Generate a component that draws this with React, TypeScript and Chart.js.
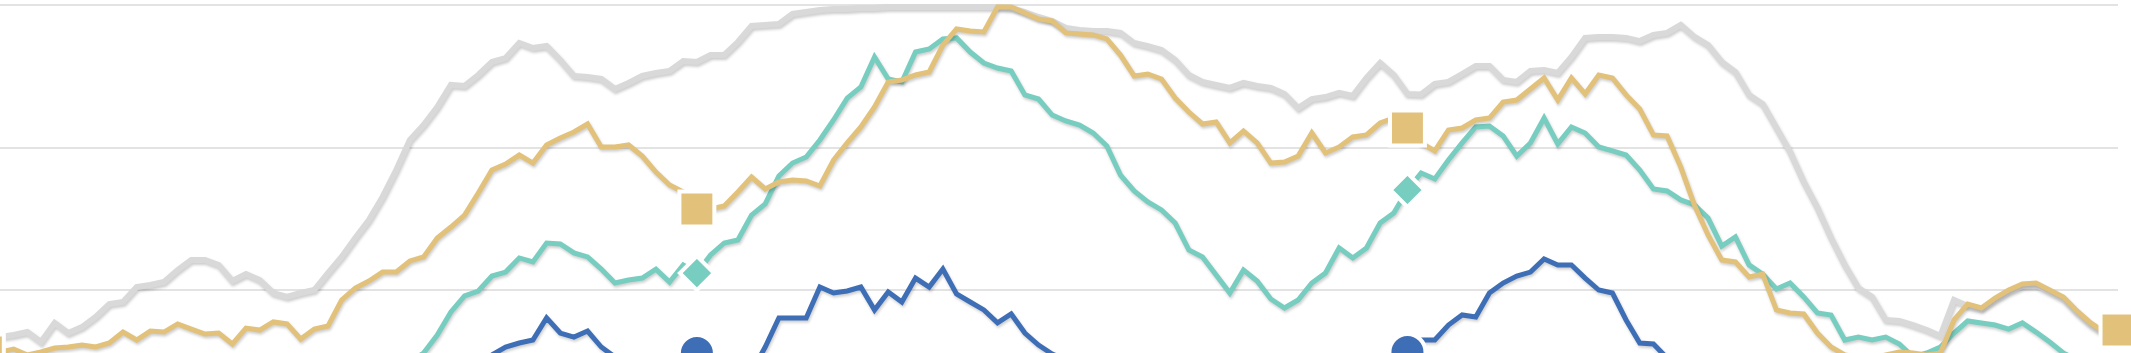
import { useEffect, useRef } from 'react';
import { Chart, registerables } from 'chart.js';

Chart.register(...registerables);

// Week index (x) — the first point sits just left of the visible area
const weeks: number[] = Array.from({ length: 157 }, (_, k) => k - 1);

// Weeks that carry a marker
const markerWeeks = [-1, 51, 103, 155];

// Gridline values
const gridTicks = [10, 20, 30];
const yMin = 5.58;
const yMax = 30;

const grayValues = [
  6.63, 6.70, 6.84, 7.05, 6.35, 7.69, 6.98, 7.40, 8.11, 9.02,
  9.16, 10.21, 10.35, 10.56, 11.40, 12.11, 12.11, 11.76, 10.63, 11.12,
  10.70, 9.79, 9.51, 9.79, 10.00, 11.19, 12.32, 13.65, 14.91, 16.53,
  18.42, 20.53, 21.58, 22.84, 24.39, 24.32, 25.09, 26.00, 26.28, 27.33,
  26.98, 27.12, 26.14, 25.02, 24.95, 24.81, 24.11, 24.53, 25.02, 25.23,
  25.37, 26.07, 26.00, 26.49, 26.49, 27.40, 28.53, 28.60, 28.67, 29.37,
  29.51, 29.65, 29.72, 29.72, 29.79, 29.79, 29.86, 29.86, 29.86, 29.86,
  29.86, 29.86, 29.86, 29.86, 29.86, 29.79, 29.51, 29.16, 28.88, 28.39,
  28.25, 28.18, 28.18, 28.04, 27.33, 27.12, 26.84, 26.14, 25.09, 24.60,
  24.39, 24.18, 24.53, 24.32, 24.18, 23.76, 22.77, 23.40, 23.54, 23.83,
  23.62, 24.88, 25.93, 25.09, 23.76, 23.72, 24.46, 24.60, 25.16, 25.72,
  25.72, 24.74, 24.60, 25.37, 25.44, 25.23, 26.35, 27.69, 27.76, 27.76,
  27.69, 27.47, 27.90, 28.04, 28.60, 27.76, 27.19, 26.00, 25.30, 23.69,
  23.05, 21.37, 19.69, 17.58, 15.76, 13.65, 11.76, 10.14, 9.51, 7.90,
  7.83, 7.54, 7.19, 6.77, 9.30, 8.88, 8.67, 9.30, 9.86, 10.28,
  10.35, 9.86, 9.37, 8.39, 7.54, 6.91, 7.05,
];

const goldValues = [
  5.65, 5.65, 5.86, 5.44, 5.65, 5.93, 6.00, 6.14, 6.00, 6.28,
  7.05, 6.49, 7.12, 7.05, 7.62, 7.26, 6.91, 6.98, 6.21, 7.33,
  7.19, 7.76, 7.62, 6.56, 7.26, 7.47, 9.30, 10.14, 10.63, 11.26,
  11.26, 12.04, 12.32, 13.65, 14.42, 15.26, 16.81, 18.42, 18.84, 19.47,
  18.91, 20.18, 20.67, 21.09, 21.65, 20.04, 20.04, 20.18, 19.40, 18.28,
  17.37, 16.88, 15.69, 15.69, 15.90, 16.88, 17.93, 17.09, 17.58, 17.72,
  17.65, 17.30, 19.12, 20.32, 21.44, 22.84, 24.60, 24.74, 25.09, 25.30,
  27.19, 28.32, 28.18, 28.11, 29.86, 29.86, 29.44, 29.02, 28.88, 28.04,
  27.97, 27.90, 27.62, 26.49, 25.02, 25.16, 24.81, 23.47, 22.49, 21.65,
  21.79, 20.32, 21.16, 20.32, 18.91, 18.98, 19.40, 21.02, 19.62, 20.04,
  20.74, 20.88, 21.72, 22.07, 21.37, 20.32, 19.76, 21.23, 21.37, 21.93,
  22.07, 23.19, 23.33, 24.11, 24.88, 23.33, 24.88, 23.76, 25.09, 24.88,
  23.69, 22.70, 20.88, 20.81, 18.63, 15.97, 13.86, 12.11, 11.97, 10.91,
  11.12, 8.60, 8.39, 8.32, 6.98, 6.00, 5.44, 5.30, 5.23, 5.44,
  5.65, 5.58, 5.44, 5.58, 7.90, 9.02, 8.74, 9.44, 10.00, 10.42,
  10.49, 10.00, 9.51, 8.53, 7.69, 7.05, 7.19,
];

const tealValues = [
  4.10, 4.02, 3.95, 4.05, 3.90, 3.85, 3.98, 4.06, 3.92, 3.88,
  3.95, 4.10, 4.00, 3.93, 4.02, 4.15, 4.08, 3.97, 3.90, 3.99,
  4.12, 4.05, 3.96, 3.94, 4.03, 4.18, 4.30, 4.25, 4.40, 4.55,
  4.70, 4.95, 5.58, 6.84, 8.46, 9.58, 9.93, 10.98, 11.26, 12.25,
  11.97, 13.30, 13.23, 12.60, 12.32, 11.47, 10.49, 10.70, 10.84, 11.47,
  10.56, 11.76, 11.19, 12.46, 13.30, 13.51, 15.26, 16.04, 18.00, 18.91,
  19.33, 20.53, 21.93, 23.47, 24.25, 26.35, 24.81, 24.60, 26.70, 26.91,
  27.62, 27.69, 26.70, 25.93, 25.58, 25.37, 23.69, 23.40, 22.28, 21.86,
  21.58, 21.02, 20.11, 18.07, 16.95, 16.18, 15.62, 14.70, 12.81, 12.32,
  11.05, 9.79, 11.40, 10.63, 9.37, 8.74, 9.30, 10.49, 11.19, 12.95,
  12.25, 12.95, 14.70, 15.40, 17.02, 18.21, 17.79, 19.12, 20.32, 21.44,
  21.51, 20.81, 19.40, 20.32, 22.07, 20.25, 21.44, 21.02, 20.04, 19.76,
  19.47, 18.42, 17.09, 16.95, 16.32, 15.97, 15.05, 13.09, 13.72, 11.76,
  11.12, 10.07, 10.49, 9.51, 8.39, 8.25, 6.49, 6.70, 6.49, 6.70,
  6.21, 5.30, 5.58, 6.00, 6.98, 7.83, 7.69, 7.54, 7.26, 7.69,
  7.05, 6.35, 5.58, 5.09, 4.74, 4.39, 4.04,
];

const blueValues = [
  3.80, 3.72, 3.65, 3.70, 3.58, 3.62, 3.75, 3.68, 3.55, 3.60,
  3.72, 3.80, 3.74, 3.66, 3.70, 3.85, 3.78, 3.70, 3.62, 3.75,
  3.88, 3.80, 3.72, 3.69, 3.78, 3.90, 4.02, 3.95, 4.08, 4.20,
  4.15, 4.28, 4.40, 4.52, 4.65, 4.90, 5.10, 5.44, 6.00, 6.28,
  6.49, 8.04, 6.98, 6.70, 7.12, 6.00, 5.30, 4.95, 4.67, 4.53,
  4.67, 5.09, 5.58, 5.09, 4.81, 4.53, 4.25, 6.00, 8.04, 8.04,
  8.04, 10.21, 9.79, 9.93, 10.21, 8.60, 9.86, 9.16, 10.84, 10.21,
  11.47, 9.72, 9.16, 8.60, 7.69, 8.32, 6.98, 6.14, 5.51, 5.09,
  4.74, 4.39, 4.11, 3.83, 3.70, 3.62, 3.55, 3.60, 3.52, 3.48,
  3.56, 3.61, 3.50, 3.47, 3.58, 3.66, 3.60, 3.72, 3.80, 3.76,
  3.88, 4.04, 4.53, 5.09, 5.65, 6.49, 6.49, 7.54, 8.25, 8.11,
  9.79, 10.49, 10.98, 11.26, 12.18, 11.76, 11.76, 10.84, 10.00, 9.79,
  7.90, 6.28, 6.21, 5.23, 4.70, 4.35, 4.10, 3.95, 3.82, 3.70,
  3.62, 3.55, 3.50, 3.46, 3.52, 3.58, 3.50, 3.44, 3.40, 3.47,
  3.55, 3.60, 3.52, 3.48, 3.56, 3.62, 3.70, 3.66, 3.58, 3.64,
  3.72, 3.68, 3.60, 3.65, 3.70, 3.66, 3.69,
];

const GOLD = '#E2C17B';
const TEAL = '#77CDBF';
const BLUE = '#3E6FB6';
const GRAY = '#D9D9D9';

const toPoints = (vals: number[]) => weeks.map((w, k) => ({ x: w, y: vals[k] }));
const toMarkers = (vals: number[]) =>
  markerWeeks.map((w) => ({ x: w, y: vals[weeks.indexOf(w)] }));

const lineShadow = {
  id: 'lineShadow',
  beforeDatasetDraw(chart: any, args: any) {
    const ds: any = chart.data.datasets[args.index];
    if (!ds.lineShadow) return;
    const ctx = chart.ctx;
    ctx.save();
    ctx.shadowColor = 'rgba(0,0,0,0.2)';
    ctx.shadowBlur = 3;
    ctx.shadowOffsetX = 1;
    ctx.shadowOffsetY = 2;
  },
  afterDatasetDraw(chart: any, args: any) {
    const ds: any = chart.data.datasets[args.index];
    if (!ds.lineShadow) return;
    chart.ctx.restore();
  },
};

export default function App() {
  const ref = useRef<HTMLCanvasElement | null>(null);

  useEffect(() => {
    document.body.style.margin = '0';
    document.body.style.overflow = 'hidden';
    if (!ref.current) return;

    const line = (label: string, vals: number[], color: string, width: number) => ({
      label,
      data: toPoints(vals),
      borderColor: color,
      backgroundColor: color,
      borderWidth: width,
      pointRadius: 0,
      pointHoverRadius: 0,
      tension: 0,
      clip: false,
      lineShadow: true,
    });

    const markers = (label: string, vals: number[], color: string, style: string, radius: number) => ({
      label,
      data: toMarkers(vals),
      showLine: false,
      pointStyle: style,
      pointRadius: radius,
      pointHoverRadius: radius,
      pointBackgroundColor: color,
      pointBorderColor: '#ffffff',
      pointBorderWidth: 4,
      clip: false,
    });

    const chart = new Chart(ref.current, {
      type: 'line',
      data: {
        datasets: [
          markers('Gold markers', goldValues, GOLD, 'rect', 24.7),
          markers('Teal markers', tealValues, TEAL, 'rectRot', 17),
          markers('Blue markers', blueValues, BLUE, 'circle', 18),
          line('Gold', goldValues, GOLD, 5),
          line('Teal', tealValues, TEAL, 5),
          line('Blue', blueValues, BLUE, 5),
          line('Gray', grayValues, GRAY, 6),
        ] as any,
      },
      options: {
        animation: false,
        responsive: true,
        maintainAspectRatio: false,
        events: [],
        layout: { autoPadding: false, padding: { top: 5, right: 13, left: 0, bottom: 0 } },
        plugins: { legend: { display: false }, tooltip: { enabled: false } },
        scales: {
          x: { type: 'linear', min: 0, max: 155, display: false },
          y: {
            min: yMin,
            max: yMax,
            afterBuildTicks: (scale: any) => {
              scale.ticks = gridTicks.map((v) => ({ value: v }));
            },
            afterFit: (scale: any) => {
              scale.width = 0;
            },
            ticks: { display: false },
            border: { display: false },
            grid: { color: '#e3e3e3', lineWidth: 2, drawTicks: false },
          },
        },
      } as any,
      plugins: [lineShadow],
    });
    return () => chart.destroy();
  }, []);

  return (
    <div style={{ position: 'relative', width: '2131px', height: '353px' }}>
      <canvas ref={ref} />
    </div>
  );
}
